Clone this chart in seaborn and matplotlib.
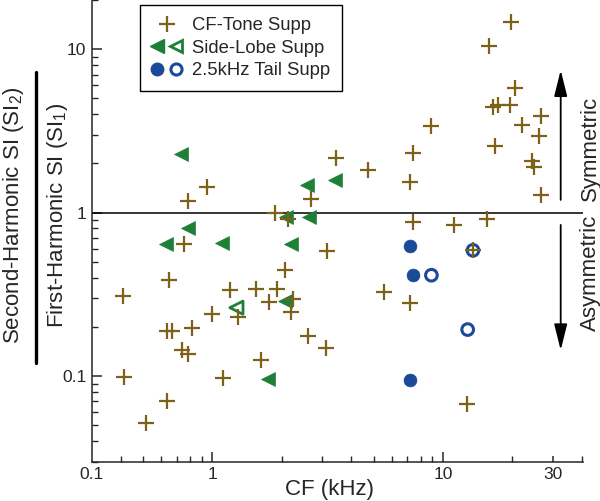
import matplotlib
matplotlib.use("Agg")
import matplotlib.pyplot as plt
from matplotlib.lines import Line2D
from matplotlib.legend_handler import HandlerTuple
from matplotlib.ticker import NullFormatter
import seaborn as sns
import pandas as pd

# CF-tone suppression (plus markers)
cf_tone_cf = [0.95, 0.78, 1.86, 2.13, 2.67, 0.75, 3.15, 0.65, 0.41, 1.19,
              1.55, 1.90, 2.06, 1.76, 2.24, 2.19, 1.00, 1.29, 0.636, 0.668,
              0.816, 0.734, 0.784, 2.60, 3.12, 1.62, 0.414, 1.11, 0.636, 0.517,
              19.8, 15.8, 20.5, 16.5, 17.3, 19.5, 26.5, 22.0, 8.91, 26.0,
              16.8, 7.41, 3.45, 4.73, 24.3, 24.8, 7.17, 26.5, 7.41, 11.2,
              15.6, 13.5, 5.55, 7.17, 12.7]
cf_tone_ratio = [1.43, 1.17, 1.00, 0.91, 1.22, 0.64, 0.58, 0.385, 0.31, 0.335,
                 0.343, 0.343, 0.444, 0.284, 0.298, 0.245, 0.241, 0.230, 0.189, 0.189,
                 0.198, 0.144, 0.137, 0.175, 0.149, 0.126, 0.098, 0.097, 0.070, 0.0516,
                 14.6, 10.4, 5.78, 4.42, 4.58, 4.53, 3.88, 3.42, 3.37, 2.93,
                 2.54, 2.31, 2.17, 1.83, 2.06, 1.90, 1.54, 1.28, 0.88, 0.845,
                 0.92, 0.588, 0.327, 0.280, 0.0674]

# side-lobe suppression (filled / open triangles)
side_cf = [2.57, 0.78, 0.63, 1.10, 2.09, 2.63, 2.19, 2.06, 1.74, 0.73, 3.41]
side_ratio = [1.47, 0.81, 0.64, 0.65, 0.94, 0.94, 0.64, 0.288, 0.0965, 2.30, 1.59]
side_open_cf = [1.27]
side_open_ratio = [0.262]

# 2.5 kHz tail suppression (filled / open circles)
tail_cf = [7.19, 7.41, 7.21]
tail_ratio = [0.622, 0.414, 0.0946]
tail_open_cf = [13.5, 8.91, 12.8]
tail_open_ratio = [0.588, 0.414, 0.1925]

PLUS = "#7d6118"
GREEN = "#1e7f36"
BLUE = "#1b4a99"

sns.set_style("ticks")
plt.rcParams["font.family"] = ["Liberation Sans", "DejaVu Sans"]
plt.rcParams["mathtext.default"] = "regular"

fig = plt.figure(figsize=(6, 5.01), dpi=100)
ax = fig.add_axes([0.1533, 0.0788, 0.8183, 0.9212])
ax.set_xscale("log")
ax.set_yscale("log")

ax.axhline(1.0, color="black", lw=1.1, zorder=1)

side = pd.DataFrame({"cf": side_cf, "ratio": side_ratio})
side_open = pd.DataFrame({"cf": side_open_cf, "ratio": side_open_ratio})
tail = pd.DataFrame({"cf": tail_cf, "ratio": tail_ratio})
tail_open = pd.DataFrame({"cf": tail_open_cf, "ratio": tail_open_ratio})
tone = pd.DataFrame({"cf": cf_tone_cf, "ratio": cf_tone_ratio})

sns.scatterplot(data=side, x="cf", y="ratio", marker="<", s=100, color=GREEN,
                edgecolor=GREEN, linewidth=0.5, ax=ax, zorder=3)
sns.scatterplot(data=side_open, x="cf", y="ratio", marker="<", s=90, color=GREEN,
                edgecolor=GREEN, linewidth=2, ax=ax, zorder=3)
ax.collections[-1].set_facecolor("none")
sns.scatterplot(data=tail, x="cf", y="ratio", marker="o", s=85, color=BLUE,
                edgecolor=BLUE, linewidth=0.5, ax=ax, zorder=3)
sns.scatterplot(data=tail_open, x="cf", y="ratio", marker="o", s=70, color=BLUE,
                edgecolor=BLUE, linewidth=2.2, ax=ax, zorder=3)
ax.collections[-1].set_facecolor("none")
sns.scatterplot(data=tone, x="cf", y="ratio", marker="+", s=135, color=PLUS,
                edgecolor=PLUS, linewidth=1.6, ax=ax, zorder=4)

ax.set_xlim(0.3, 40.5)
ax.set_ylim(0.03, 20)
sns.despine(ax=ax)
for sp in ax.spines.values():
    sp.set_linewidth(1.1)

# ticks
ax.set_yticks([0.1, 1, 10])
ax.set_yticklabels(["0.1", "1", "10"])
ax.yaxis.set_minor_formatter(NullFormatter())
ax.set_xticks([0.3, 1, 10, 30])
ax.set_xticklabels(["0.1", "1", "10", "30"])
ax.set_xticks([0.4, 0.5, 0.6, 0.7, 0.8, 0.9, 2, 3, 4, 5, 6, 7, 8, 9, 20, 40], minor=True)
ax.xaxis.set_minor_formatter(NullFormatter())
ax.tick_params(which="major", direction="in", length=7, width=1.1, labelsize=12.5, pad=4)
ax.tick_params(which="minor", direction="in", length=4, width=1.0)
xt = ax.xaxis.get_major_ticks()
xt[0].tick1line.set_markersize(0)
xt[3].tick1line.set_markersize(4)

ax.set_xlabel("CF (kHz)", fontsize=16)
ax.xaxis.set_label_coords(0.483, -0.038)
ax.set_ylabel("")

# stacked y label (ratio)
fig.text(14 / 600, 1 - 215 / 501, "Second-Harmonic SI (SI$_2$)", rotation=90,
         ha="center", va="center", fontsize=16)
fig.add_artist(Line2D([0.0595, 0.0595], [0.275, 0.856], transform=fig.transFigure,
                      color="black", lw=2.4))
fig.text(57 / 600, 1 - 215 / 501, "First-Harmonic SI (SI$_1$)", rotation=90,
         ha="center", va="center", fontsize=16)

# right-hand annotations
fig.text(590 / 600, 1 - 148 / 501, "Symmetric", rotation=90, ha="center", va="center", fontsize=16)
fig.text(590 / 600, 1 - 273 / 501, "Asymmetric", rotation=90, ha="center", va="center", fontsize=16)
arrow = dict(arrowstyle="-|>,head_length=0.8,head_width=0.2", color="black", lw=1.3,
             mutation_scale=20, shrinkA=0, shrinkB=0)
ax.annotate("", xy=(0.9345, 0.860), xytext=(0.9345, 0.601), xycoords="figure fraction",
            textcoords="figure fraction", arrowprops=arrow)
ax.annotate("", xy=(0.9345, 0.301), xytext=(0.9345, 0.551), xycoords="figure fraction",
            textcoords="figure fraction", arrowprops=arrow)

# legend
h_plus = Line2D([], [], marker="+", ls="", color=PLUS, ms=11, mew=1.6)
h_tri = Line2D([], [], marker="<", ls="", color=GREEN, ms=10)
h_tri_o = Line2D([], [], marker="<", ls="", color=GREEN, mfc="none", mew=2, ms=9)
h_dot = Line2D([], [], marker="o", ls="", color=BLUE, ms=9)
h_dot_o = Line2D([], [], marker="o", ls="", color=BLUE, mfc="none", mew=2.2, ms=8)
leg = ax.legend([h_plus, (h_tri, h_tri_o), (h_dot, h_dot_o)],
                ["CF-Tone Supp", "Side-Lobe Supp", "2.5kHz Tail Supp"],
                handler_map={tuple: HandlerTuple(ndivide=None, pad=0.5)},
                loc="upper left", bbox_to_anchor=(140 / 600, 1 - 5 / 501),
                bbox_transform=fig.transFigure, borderaxespad=0, fontsize=13.3,
                frameon=True, fancybox=False, framealpha=1, edgecolor="black",
                handlelength=1.6, handletextpad=0.55, labelspacing=0.3, borderpad=0.65)
leg.get_frame().set_linewidth(1.0)

fig.savefig("out.png", dpi=100)
